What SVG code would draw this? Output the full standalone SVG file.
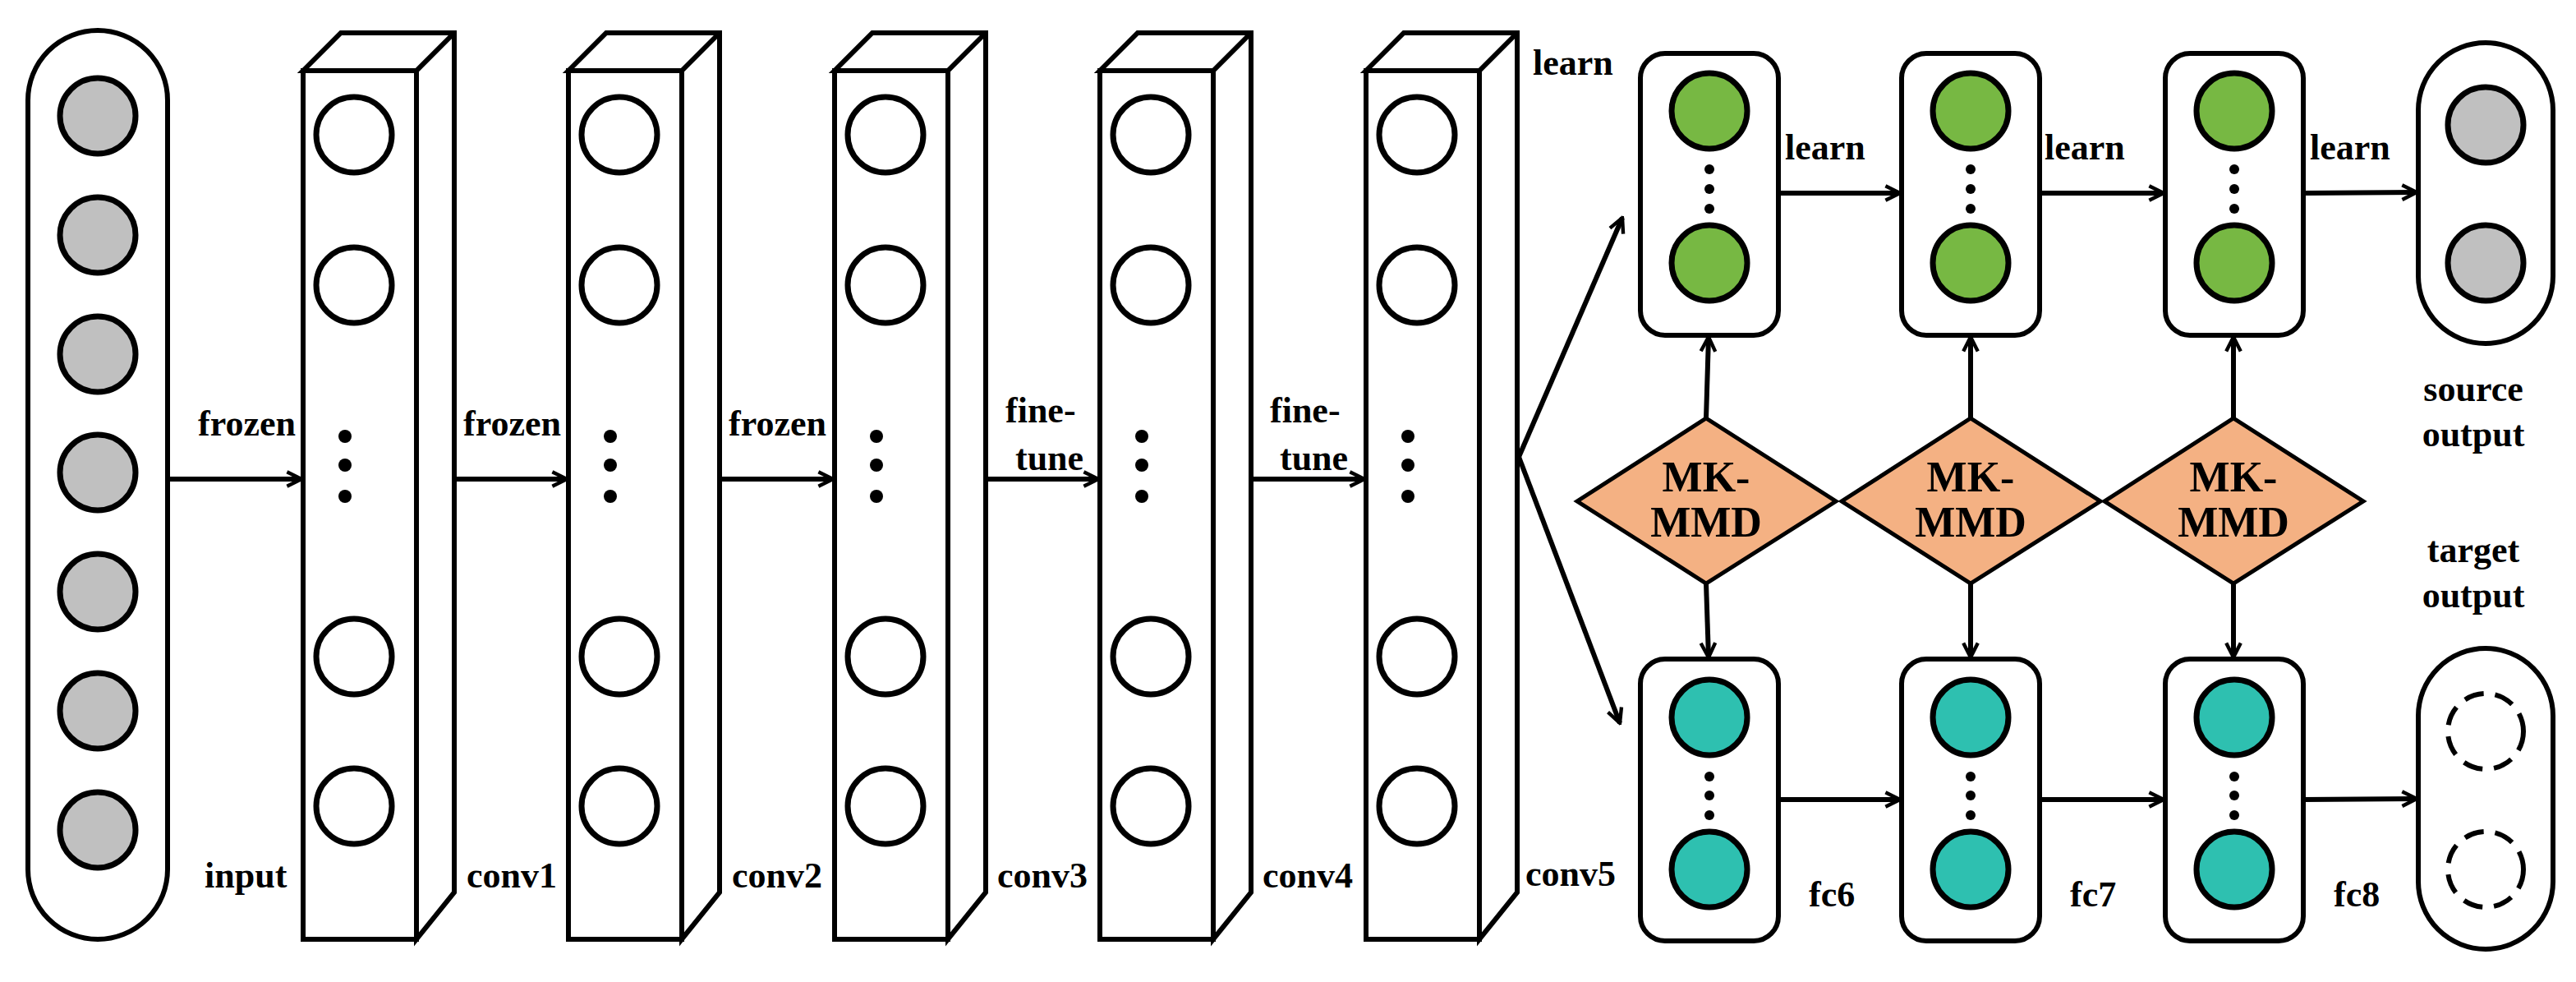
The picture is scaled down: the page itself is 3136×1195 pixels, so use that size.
<svg xmlns="http://www.w3.org/2000/svg" width="3136" height="1195" viewBox="0 0 3136 1195">
<defs>
<style>
.t{font-family:"Liberation Serif","Times New Roman",serif;font-weight:bold;font-size:44px;fill:#000}
.m{font-family:"Liberation Serif","Times New Roman",serif;font-weight:bold;font-size:52px;fill:#000;text-anchor:middle}
.ln{stroke:#000;stroke-width:6;fill:none}
.bx{stroke:#000;stroke-width:6;fill:#fff}
.c{stroke:#000;stroke-width:7;fill:#fff}
.g{stroke:#000;stroke-width:7;fill:#c0c0c0}
.gr{stroke:#000;stroke-width:7;fill:#77b843}
.tl{stroke:#000;stroke-width:7;fill:#2ec0b0}
.d{stroke:#000;stroke-width:5;fill:#f4b183}
.ds{stroke:#000;stroke-width:6;fill:none;stroke-dasharray:24 14}
</style>
<marker id="a" viewBox="0 0 20 20" refX="18" refY="10" markerWidth="22" markerHeight="22" markerUnits="userSpaceOnUse" orient="auto">
<path d="M2,2 L18,10 L2,18" fill="none" stroke="#000" stroke-width="4"/>
</marker>
<g id="col">
<path class="bx" d="M0,0 L46,-46 L184,-46 L184,1000 L138,1057 L138,0 Z"/>
<path class="ln" d="M0,0 L138,0 L184,-46"/>
<rect class="bx" x="0" y="0" width="138" height="1057"/>
<circle class="c" cx="62" cy="78" r="46"/>
<circle class="c" cx="62" cy="261" r="46"/>
<circle class="c" cx="62" cy="713" r="46"/>
<circle class="c" cx="62" cy="895" r="46"/>
<circle cx="51" cy="445" r="8"/>
<circle cx="51" cy="480" r="8"/>
<circle cx="51" cy="518" r="8"/>
</g>
<g id="fcg">
<rect class="bx" x="0" y="0" width="168" height="343" rx="30"/>
<circle class="gr" cx="84" cy="70" r="46"/>
<circle class="gr" cx="84" cy="255" r="46"/>
<circle cx="84" cy="141" r="6"/><circle cx="84" cy="165" r="6"/><circle cx="84" cy="189" r="6"/>
</g>
<g id="fct">
<rect class="bx" x="0" y="0" width="168" height="343" rx="30"/>
<circle class="tl" cx="84" cy="71" r="46"/>
<circle class="tl" cx="84" cy="256" r="46"/>
<circle cx="84" cy="143" r="6"/><circle cx="84" cy="166" r="6"/><circle cx="84" cy="190" r="6"/>
</g>
</defs>
<rect width="3136" height="1195" fill="#fff"/>
<g id="input">
<rect class="bx" x="34" y="37" width="170" height="1106" rx="85"/>
<circle class="g" cx="119" cy="141" r="46"/>
<circle class="g" cx="119" cy="286" r="46"/>
<circle class="g" cx="119" cy="431" r="46"/>
<circle class="g" cx="119" cy="575" r="46"/>
<circle class="g" cx="119" cy="720" r="46"/>
<circle class="g" cx="119" cy="865" r="46"/>
<circle class="g" cx="119" cy="1010" r="46"/>
<text class="t" x="249" y="1080">input</text>
</g>
<g id="conv1"><use href="#col" x="369" y="86"/><text class="t" x="568" y="1080">conv1</text></g>
<g id="conv2"><use href="#col" x="692" y="86"/><text class="t" x="891" y="1080">conv2</text></g>
<g id="conv3"><use href="#col" x="1016" y="86"/><text class="t" x="1214" y="1080">conv3</text></g>
<g id="conv4"><use href="#col" x="1339" y="86"/><text class="t" x="1537" y="1080">conv4</text></g>
<g id="conv5"><use href="#col" x="1663" y="86"/><text class="t" x="1857" y="1078">conv5</text></g>
<g id="fc6s"><use href="#fcg" x="1997" y="65"/></g>
<g id="fc7s"><use href="#fcg" x="2315" y="65"/></g>
<g id="fc8s"><use href="#fcg" x="2636" y="65"/></g>
<g id="fc6t"><use href="#fct" x="1997" y="802"/><text class="t" x="2202" y="1103">fc6</text></g>
<g id="fc7t"><use href="#fct" x="2315" y="802"/><text class="t" x="2520" y="1103">fc7</text></g>
<g id="fc8t"><use href="#fct" x="2636" y="802"/><text class="t" x="2841" y="1103">fc8</text></g>
<g id="source">
<rect class="bx" x="2944" y="52" width="164" height="366" rx="82"/>
<circle class="g" cx="3026" cy="152" r="46"/>
<circle class="g" cx="3026" cy="320" r="46"/>
<text class="t" x="3011" y="488" text-anchor="middle">source</text>
<text class="t" x="3011" y="543" text-anchor="middle">output</text>
</g>
<g id="target">
<rect class="bx" x="2944" y="789" width="164" height="366" rx="82"/>
<circle class="ds" cx="3026" cy="890" r="46"/>
<circle class="ds" cx="3026" cy="1058" r="46"/>
<text class="t" x="3011" y="684" text-anchor="middle">target</text>
<text class="t" x="3011" y="739" text-anchor="middle">output</text>
</g>
<g id="mmd1"><path class="d" d="M2077,509 L2235,610 L2077,710 L1920,610 Z"/><text class="m" x="2077" y="598">MK-</text><text class="m" x="2077" y="653">MMD</text></g>
<g id="mmd2"><path class="d" d="M2399,509 L2557,610 L2399,710 L2242,610 Z"/><text class="m" x="2399" y="598">MK-</text><text class="m" x="2399" y="653">MMD</text></g>
<g id="mmd3"><path class="d" d="M2719,509 L2877,610 L2719,710 L2562,610 Z"/><text class="m" x="2719" y="598">MK-</text><text class="m" x="2719" y="653">MMD</text></g>
<g id="connectors">
<path class="ln" marker-end="url(#a)" d="M204,583 L367,583"/>
<path class="ln" marker-end="url(#a)" d="M553,583 L690,583"/>
<path class="ln" marker-end="url(#a)" d="M876,583 L1014,583"/>
<path class="ln" marker-end="url(#a)" d="M1200,583 L1337,583"/>
<path class="ln" marker-end="url(#a)" d="M1523,583 L1661,583"/>
<path class="ln" marker-end="url(#a)" d="M1849,556 L1975,265"/>
<path class="ln" marker-end="url(#a)" d="M1849,556 L1972,880"/>
<path class="ln" marker-end="url(#a)" d="M2165,235 L2313,235"/>
<path class="ln" marker-end="url(#a)" d="M2483,235 L2634,235"/>
<path class="ln" marker-end="url(#a)" d="M2804,235 L2942,234"/>
<path class="ln" marker-end="url(#a)" d="M2165,973 L2313,973"/>
<path class="ln" marker-end="url(#a)" d="M2483,973 L2634,973"/>
<path class="ln" marker-end="url(#a)" d="M2804,973 L2942,972"/>
<path class="ln" marker-end="url(#a)" d="M2077,509 L2080,410"/>
<path class="ln" marker-end="url(#a)" d="M2399,509 L2399,410"/>
<path class="ln" marker-end="url(#a)" d="M2719,509 L2719,410"/>
<path class="ln" marker-end="url(#a)" d="M2077,710 L2080,800"/>
<path class="ln" marker-end="url(#a)" d="M2399,710 L2399,800"/>
<path class="ln" marker-end="url(#a)" d="M2719,710 L2719,800"/>
</g>
<g id="labels">
<text class="t" x="241" y="530">frozen</text>
<text class="t" x="564" y="530">frozen</text>
<text class="t" x="887" y="530">frozen</text>
<text class="t" x="1224" y="514">fine-</text>
<text class="t" x="1236" y="572">tune</text>
<text class="t" x="1546" y="514">fine-</text>
<text class="t" x="1558" y="572">tune</text>
<text class="t" x="1866" y="91">learn</text>
<text class="t" x="2173" y="194">learn</text>
<text class="t" x="2489" y="194">learn</text>
<text class="t" x="2812" y="194">learn</text>
</g>
</svg>
